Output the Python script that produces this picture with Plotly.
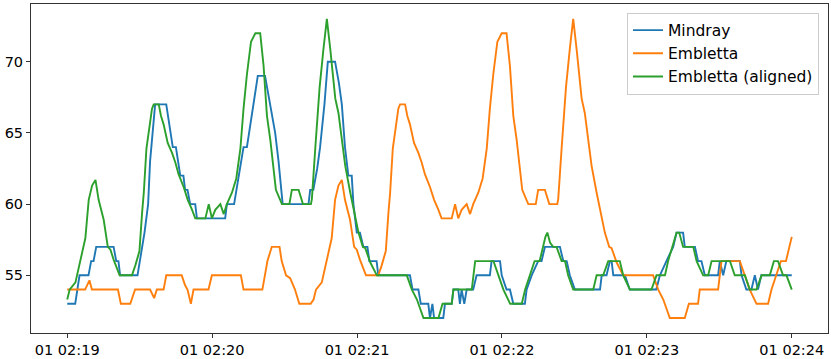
import pandas as pd
import plotly.graph_objects as go

# seconds after 02:19:00 and heart rate readings
mindray_sec = [0, 3.3, 5.1, 8.8, 9.9, 10.9, 12.0, 19.2, 20.3, 21.2, 21.9, 29.1, 32.0, 33.5, 34.3, 35.3,
               36.4, 41.0, 42.6, 43.7, 45.0, 46.8, 48.1, 48.8, 49.8, 50.9, 53.0, 53.7, 65.4, 66.1, 69.1,
               71.0, 73.0, 74.4, 76.5, 78.9, 81.9, 84.0, 86.1, 87.5, 89.2, 99.9, 100.6, 101.9, 103.5,
               104.7, 106.5, 107.9, 110.9, 112.5, 113.7, 115.0, 116.4, 117.8, 118.5, 119.9, 121.2,
               122.6, 124.3, 125.1, 128.1, 128.8, 141.9, 143.0, 145.4, 146.4, 149.5, 150.2, 151.2,
               151.9, 155.7, 156.4, 159.2, 159.9, 161.9, 162.6, 163.3, 164.4, 165.4, 168.1, 169.5,
               175.0, 175.7, 179.2, 179.9, 181.9, 183.3, 184.7, 189.5, 190.2, 192.3, 195.0, 196.4,
               197.8, 204.0, 205.4, 206.8, 208.1, 210.2, 220.6, 221.3, 223.3, 224.7, 225.4, 226.1,
               230.9, 232.9, 243.9, 245.4, 248.1, 250.9, 252.3, 255.0, 255.7, 259.9, 261.2, 262.6,
               264.0, 269.5, 270.2, 271.6, 272.9, 278.5, 279.2, 281.2, 283.3, 284.7, 286.0, 287.4, 300]
mindray_hr = [53, 53, 55, 55, 56, 56, 57, 57, 56, 56, 55, 55, 58, 60, 63, 65,
              67, 67, 65, 64, 64, 62, 62, 61, 61, 60, 60, 59, 59, 60, 60,
              62, 64, 64, 66.5, 69, 69, 67, 65, 63, 60, 60, 61, 61, 62.5,
              64, 67, 70, 70, 68.5, 67, 64, 62, 62, 60, 58, 58,
              57, 57, 56, 56, 55, 55, 54, 54, 53, 53, 52, 53,
              52, 52, 53, 53, 54, 54, 53, 54, 53, 54, 54, 55,
              55, 56, 56, 55, 54, 54, 53, 53, 54, 55, 56, 56,
              57, 57, 56, 56, 55, 54, 54, 55, 55, 56, 56, 55,
              55, 54, 54, 55, 56, 57, 58, 58, 57, 57, 56, 56,
              55, 55, 56, 55, 56, 56, 55, 54, 54, 55, 54, 55, 55]

embletta_sec = [0, 7.4, 9.2, 10.2, 21.0, 22.2, 26.1, 28.1, 34.3, 36.0, 37.1, 39.9, 41.0, 47.4, 48.8,
                49.8, 51.2, 52.3, 58.5, 59.9, 71.9, 73.0, 80.8, 81.9, 82.9, 84.7, 87.9, 88.8, 90.6,
                92.3, 94.3, 96.1, 100.8, 102.0, 103.0, 105.4, 107.5, 109.5, 110.9, 112.3, 113.7,
                115.0, 117.1, 118.8, 119.9, 121.2, 123.7, 128.8, 130.2, 131.9, 133.0, 133.7, 134.8,
                136.1, 137.1, 137.8, 139.9, 140.8, 141.9, 143.6, 145.4, 146.8, 148.1, 150.2, 151.9,
                153.7, 155.0, 159.2, 160.6, 161.9, 163.3, 165.4, 166.8, 168.1, 170.2, 172.0, 173.7,
                175.0, 176.4, 178.1, 179.9, 181.9, 183.3, 184.7, 186.1, 188.4, 190.9, 194.0, 195.0,
                197.8, 199.6, 202.9, 203.3, 204.7, 206.5, 208.1, 209.5, 210.9, 213.0, 214.3, 215.7,
                217.1, 219.2, 221.3, 222.6, 224.4, 225.4, 227.5, 230.2, 242.6, 244.7, 246.8, 249.5,
                255.7, 257.4, 261.2, 261.9, 269.5, 270.2, 270.9, 278.5, 280.6, 282.6, 285.4, 290.2,
                291.6, 293.7, 295.5, 297.6, 300.0, 300.8, 301.9, 303.2, 304.6, 306.7, 308.1, 309.4,
                311.5, 319.8, 321.2, 323.9, 326.0, 330.8, 332.2, 335.0, 343.9, 346.0, 349.5, 350.8,
                352.6, 354.3, 355.4, 357.0, 361.2, 362.6, 365.3, 367.4, 368.8, 376.4, 378.4, 382.6,
                384.6, 387.4, 389.5, 392.9, 394.6, 396.3, 398.4, 399.8, 402.0]
embletta_hr = [54, 54, 54.65, 54, 54, 53, 53, 54, 54, 53.4, 54, 54, 55, 55, 54.3,
               54, 53, 54, 54, 55, 55, 54, 54, 55, 56, 57, 57, 56, 55,
               54.8, 54, 53, 53, 53.3, 54, 54.5, 56.1, 57.6, 60.3, 61.3, 61.7,
               60.3, 58.9, 57.0, 56.8, 56.1, 55, 55, 55.7, 56.7, 59.4, 60.8, 63.9,
               65.5, 66.7, 67, 67, 66.2, 65.6, 64.3, 63.6, 62.9, 62.1, 61.2, 60.3,
               59.6, 59, 59, 60, 59, 59.6, 60, 59.3, 60, 60.8, 61.8, 63.9,
               66.7, 69.1, 71.4, 72, 72, 69.7, 66.2, 64.5, 61.0, 60, 60, 61,
               61, 60, 60, 60.35, 63.9, 68.2, 70.9, 73, 70.9, 67.4, 66.4, 64.6,
               62.7, 60.8, 58.9, 58.0, 57.0, 56.9, 55.9, 55, 55, 54, 53.3, 52,
               52, 53, 53, 54, 54, 55, 56, 56, 55, 54, 53, 53,
               54, 55, 56, 56, 57.7, 58, 57.3, 57, 57, 56, 56, 55,
               54, 54, 55, 55, 56, 56, 55, 54, 54, 55, 55, 56,
               57, 58, 58, 57, 57, 56, 55, 55, 56, 56, 55, 55,
               54, 54, 55, 55, 56, 56, 55, 55, 54]

align_shift = 102  # seconds the Embletta recording is moved back

start = pd.Timestamp("2020-01-01 02:19:00")
end = pd.Timestamp("2020-01-01 02:24:00")

emb = pd.DataFrame({"sec": embletta_sec, "hr": embletta_hr})
emb_raw = emb[emb.sec <= 300]
emb_al = emb[emb.sec >= align_shift]

def to_time(sec):
    return start + pd.to_timedelta(pd.Series(sec, dtype=float), unit="s")

fig = go.Figure()
fig.add_trace(go.Scatter(x=to_time(mindray_sec), y=mindray_hr, mode="lines", name="Mindray",
                         line=dict(color="#1f77b4", width=1.9)))
fig.add_trace(go.Scatter(x=to_time(emb_raw.sec.values), y=emb_raw.hr.values, mode="lines", name="Embletta",
                         line=dict(color="#ff7f0e", width=1.9)))
fig.add_trace(go.Scatter(x=to_time(emb_al.sec.values - align_shift), y=emb_al.hr.values, mode="lines",
                         name="Embletta (aligned)", line=dict(color="#2ca02c", width=1.9)))

pad = pd.Timedelta(seconds=15)
fig.update_layout(
    width=831, height=359,
    margin=dict(l=31, r=3, t=4, b=26),
    paper_bgcolor="white", plot_bgcolor="white",
    font=dict(family="DejaVu Sans", size=14.5, color="black"),
    legend=dict(x=0.9887, y=0.974, xanchor="right", yanchor="top",
                bgcolor="rgba(255,255,255,0.8)", bordercolor="#cccccc", borderwidth=1,
                font=dict(size=15.5)),
    xaxis=dict(range=[start - pad, end + pad], tickformat="%d %H:%M", dtick=60000,
               tick0=start, showgrid=False, zeroline=False, showline=True, mirror=True,
               linecolor="#333333", linewidth=1, ticks="outside", ticklen=4, tickcolor="#333333",
               automargin=False),
    yaxis=dict(range=[50.95, 74.05], tickvals=[55, 60, 65, 70], showgrid=False, zeroline=False,
               showline=True, mirror=True, linecolor="#333333", linewidth=1,
               ticks="outside", ticklen=4, tickcolor="#333333", automargin=False),
)

# the page's default body margin would shift the chart
fig.write_html("out.html", config={"displayModeBar": False},
               post_script="document.body.style.margin='0';")
